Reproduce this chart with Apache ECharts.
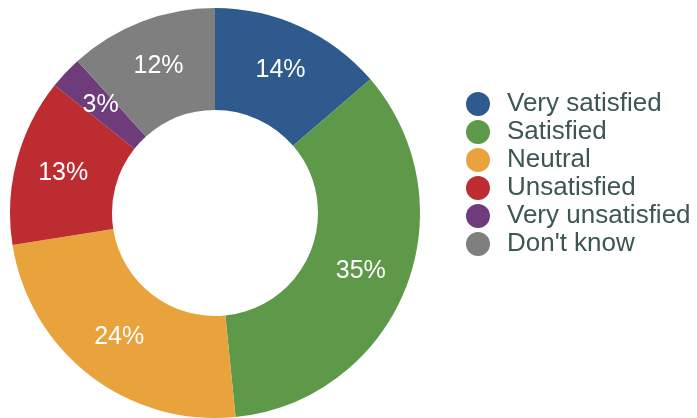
<!DOCTYPE html>
<html>
<head>
<meta charset="utf-8">
<script src="https://cdn.jsdelivr.net/npm/echarts@6/dist/echarts.min.js"></script>
<style>
html,body{margin:0;padding:0;background:#fff;}
#chart{width:697px;height:418px;}
</style>
</head>
<body>
<div id="chart"></div>
<script>
const categories = ["Very satisfied", "Satisfied", "Neutral", "Unsatisfied", "Very unsatisfied", "Don't know"];
const values = [13.7, 34.7, 24.1, 13.2, 2.6, 11.7];
const colors = ["#2e5a8e", "#5e994a", "#e8a33d", "#bc2c31", "#6e3b7b", "#7f7f7f"];

const chart = echarts.init(document.getElementById('chart'), null, {renderer: 'canvas'});
chart.setOption({
  animation: false,
  color: colors,
  legend: {
    orient: 'vertical',
    left: 461,
    top: 85,
    icon: 'circle',
    itemWidth: 48,
    itemHeight: 24,
    itemGap: 0,
    textStyle: {
      fontFamily: 'Liberation Sans, Arial, sans-serif',
      fontSize: 26,
      lineHeight: 28,
      color: '#3d5555'
    },
    data: categories
  },
  series: [{
    type: 'pie',
    center: [215, 213],
    radius: [103, 205],
    startAngle: 90,
    clockwise: true,
    avoidLabelOverlap: false,
    label: {
      show: true,
      position: 'inside',
      color: '#ffffff',
      fontFamily: 'Liberation Sans, Arial, sans-serif',
      fontSize: 25,
      formatter: p => Math.round(p.percent) + '%'
    },
    labelLine: {show: false},
    emphasis: {disabled: true},
    data: categories.map((c, i) => ({name: c, value: values[i]}))
  }]
});
</script>
</body>
</html>
